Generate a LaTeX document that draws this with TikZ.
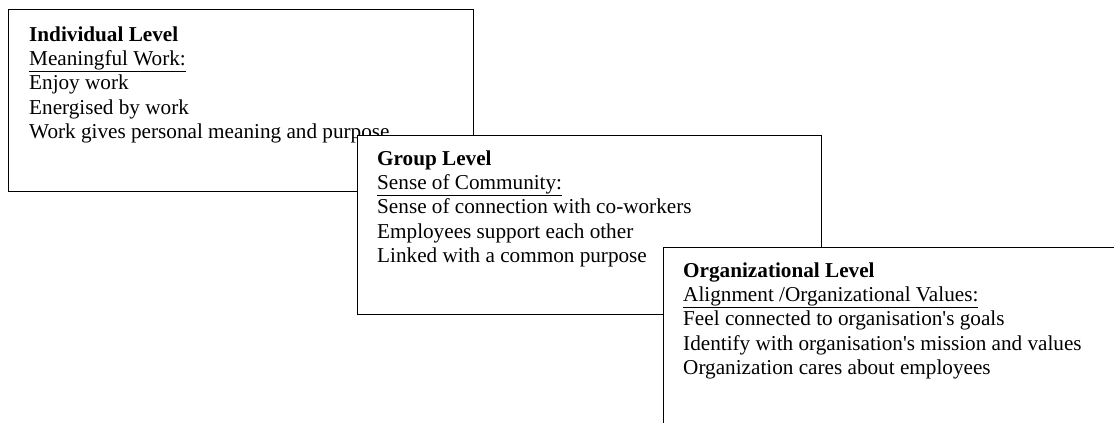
\documentclass[tikz,border=0pt]{standalone}
\usepackage{fontspec}
\setmainfont{Liberation Serif}
\usetikzlibrary{calc}
\tikzset{
    levelbox/.style={
            draw,
            fill=white,
            line width=1.4pt,
            anchor=north west,
            inner sep=0pt % box only, text is placed on its own
        }
}
\tikzset{
    leveltext/.style={
            anchor=north west,
            align=left,
            inner sep=0pt,
            font=\fontsize{21.2}{24.3}\selectfont
        }
}
\newcommand{\levelhead}[1]{\strut\textbf{#1}}
\newcommand{\levelsub}[1]{\underline{#1}}

\begin{document}
\begin{tikzpicture}[x=1pt, y=-1pt]
    \useasboundingbox (0,0) rectangle (1114,423);
    \clip (0,0) rectangle (1114,423);
    %
    % individual level
    \node[levelbox, minimum width=465pt, minimum height=182pt] (indiv) at (8,9) {};
    \node[leveltext] (indivtext) at ($(indiv.north west)+(21,15)$) {%
        \levelhead{Individual Level}\\
        \levelsub{Meaningful Work:}\\
        Enjoy work\\
        Energised by work\\
        Work gives personal meaning and purpose};
    %
    % group level
    \node[levelbox, minimum width=464pt, minimum height=179pt] (group) at (357,135) {};
    \node[leveltext] (grouptext) at ($(group.north west)+(20,13)$) {%
        \levelhead{Group Level}\\
        \levelsub{Sense of Community:}\\
        Sense of connection with co-workers\\
        Employees support each other\\
        Linked with a common purpose};
    %
    % organizational level, runs off the page
    \node[levelbox, minimum width=500pt, minimum height=220pt] (org) at (663,247) {};
    \node[leveltext] (orgtext) at ($(org.north west)+(20,13)$) {%
        \levelhead{Organizational Level}\\
        \levelsub{Alignment /Organizational Values:}\\
        Feel connected to organisation\textquotesingle s goals\\
        Identify with organisation\textquotesingle s mission and values\\
        Organization cares about employees};
\end{tikzpicture}
\end{document}
